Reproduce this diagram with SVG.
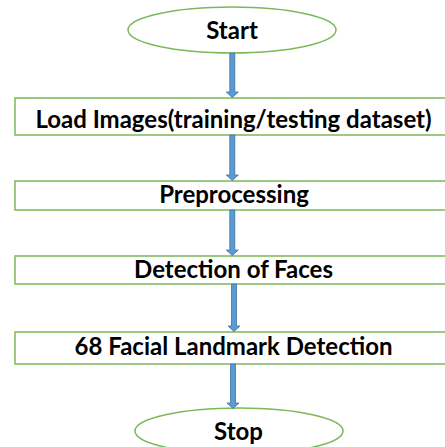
<svg xmlns="http://www.w3.org/2000/svg" width="445" height="447" viewBox="0 0 445 447">
<style>
.box{fill:#fff;stroke:#7cb85a;stroke-width:1.5}
.term{fill:#fff;stroke:#7cb85a;stroke-width:1.5}
.t{font-family:Lato,"Liberation Sans",sans-serif;font-weight:bold;font-size:24px;fill:#000;text-anchor:middle}
.arr{fill:#5b9bd5;stroke:#41719c;stroke-width:0.8}
</style>
<rect width="445" height="447" fill="#fff"/>
<g id="start"><ellipse class="term" cx="232" cy="30" rx="104" ry="23"/><text class="t" x="232" y="39">Start</text></g>
<g id="load"><rect class="box" x="15" y="98" width="440" height="37"/><text class="t" x="233.5" y="128">Load Images(training/testing dataset)</text></g>
<g id="pre"><rect class="box" x="15" y="181" width="440" height="29"/><text class="t" x="234" y="203">Preprocessing</text></g>
<g id="detect"><rect class="box" x="15" y="256" width="440" height="28"/><text class="t" x="233.5" y="278">Detection of Faces</text></g>
<g id="landmark"><rect class="box" x="15" y="332" width="440" height="32"/><text class="t" x="233.5" y="355">68 Facial Landmark Detection</text></g>
<g id="stop"><ellipse class="term" cx="239" cy="431" rx="104" ry="23"/><text class="t" x="238.5" y="440">Stop</text></g>
<g id="connectors">
<path class="arr" d="M229.8 53 h5 v39 h3.5 l-6 5.5 l-6 -5.5 h3.5 z"/>
<path class="arr" d="M229.8 135 h5 v40 h3.5 l-6 5.5 l-6 -5.5 h3.5 z"/>
<path class="arr" d="M229.8 210 h5 v40 h3.5 l-6 5.5 l-6 -5.5 h3.5 z"/>
<path class="arr" d="M231.5 284 h5 v42 h3.5 l-6 5.5 l-6 -5.5 h3.5 z"/>
<path class="arr" d="M230.5 364 h5 v39 h3.5 l-6 5.5 l-6 -5.5 h3.5 z"/>
</g>
</svg>
